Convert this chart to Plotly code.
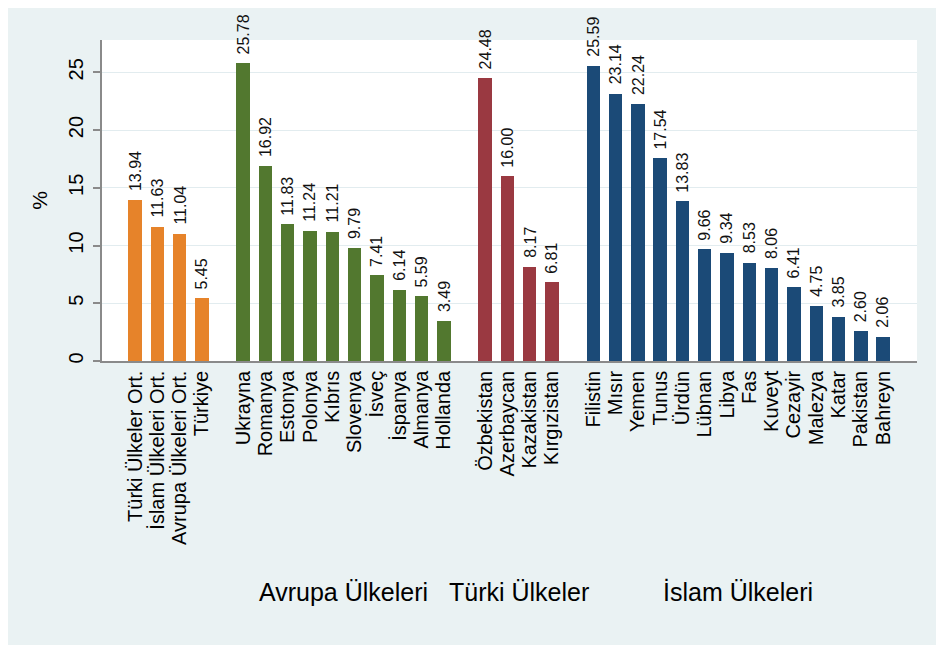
import plotly.graph_objects as go

# ---- data ----
ort_labels = ["Türki Ülkeler Ort.", "İslam Ülkeleri Ort.", "Avrupa Ülkeleri Ort.", "Türkiye"]
ort_values = [13.94, 11.63, 11.04, 5.45]

avrupa_labels = ["Ukrayna", "Romanya", "Estonya", "Polonya", "Kıbrıs", "Slovenya",
                 "İsveç", "İspanya", "Almanya", "Hollanda"]
avrupa_values = [25.78, 16.92, 11.83, 11.24, 11.21, 9.79, 7.41, 6.14, 5.59, 3.49]

turki_labels = ["Özbekistan", "Azerbaycan", "Kazakistan", "Kırgızistan"]
turki_values = [24.48, 16.00, 8.17, 6.81]

islam_labels = ["Filistin", "Mısır", "Yemen", "Tunus", "Ürdün", "Lübnan", "Libya", "Fas",
                "Kuveyt", "Cezayir", "Malezya", "Katar", "Pakistan", "Bahreyn"]
islam_values = [25.59, 23.14, 22.24, 17.54, 13.83, 9.66, 9.34, 8.53, 8.06, 6.41,
                4.75, 3.85, 2.60, 2.06]

group_names = ["", "Avrupa Ülkeleri", "Türki Ülkeler", "İslam Ülkeleri"]
group_labels = [ort_labels, avrupa_labels, turki_labels, islam_labels]
group_values = [ort_values, avrupa_values, turki_values, islam_values]
group_colors = ["#e6832a", "#52782f", "#9a3941", "#1b4a77"]

GAP = 1.85  # spacing between groups (in bar slots)
FONT = "Liberation Sans, Arial, sans-serif"

fig = go.Figure()
all_x, all_text = [], []
centers = []
pos = 0.0
for gi, (labs, vals, col) in enumerate(zip(group_labels, group_values, group_colors)):
    if gi > 0:
        pos += GAP - 1
    xs = [pos + i for i in range(len(vals))]
    pos = xs[-1] + 1
    centers.append((xs[0] + xs[-1]) / 2)
    all_x += xs
    all_text += labs
    fig.add_trace(go.Bar(
        x=xs, y=vals, width=0.6, marker=dict(color=col, line=dict(width=0)),
        showlegend=False, hoverinfo="skip",
    ))
    for xv, v in zip(xs, vals):
        fig.add_annotation(x=xv, y=v, xref="x", yref="y", text=f"{v:.2f}",
                           textangle=-90, showarrow=False, yanchor="bottom",
                           xanchor="center", yshift=7,
                           font=dict(family=FONT, size=16, color="#111111"))

for name, cx in zip(group_names, centers):
    if name:
        fig.add_annotation(x=cx, xref="x", y=-0.72, yref="paper", text=name,
                           showarrow=False, yanchor="middle", xanchor="center",
                           font=dict(family=FONT, size=25, color="#000000"))

first, last = all_x[0], all_x[-1]
fig.update_layout(
    width=936, height=637,
    margin=dict(l=94, r=27, t=32, b=284),
    paper_bgcolor="#eaf2f3", plot_bgcolor="#ffffff",
    bargap=0, font=dict(family=FONT, color="#000000"),
    xaxis=dict(
        range=[first - 1.48, last + 1.52],
        tickvals=all_x, ticktext=all_text, tickangle=-90,
        tickfont=dict(family=FONT, size=20, color="#000000"),
        showgrid=False, zeroline=False, ticks="",
        showline=True, linecolor="#8a8a8a", linewidth=1.5,
    ),
    yaxis=dict(
        range=[0, 27.8], tickvals=[0, 5, 10, 15, 20, 25], tickangle=-90,
        tickfont=dict(family=FONT, size=20, color="#000000"),
        ticks="outside", ticklen=7, tickcolor="#8a8a8a", tickwidth=1.5,
        ticklabelstandoff=2,
        showline=True, linecolor="#8a8a8a", linewidth=1.5,
        showgrid=True, gridcolor="#e2ecef", gridwidth=1.2,
        zeroline=False,
        title=dict(text="%", font=dict(family=FONT, size=21, color="#000000"), standoff=12),
    ),
)

fig.write_html("out.html")
